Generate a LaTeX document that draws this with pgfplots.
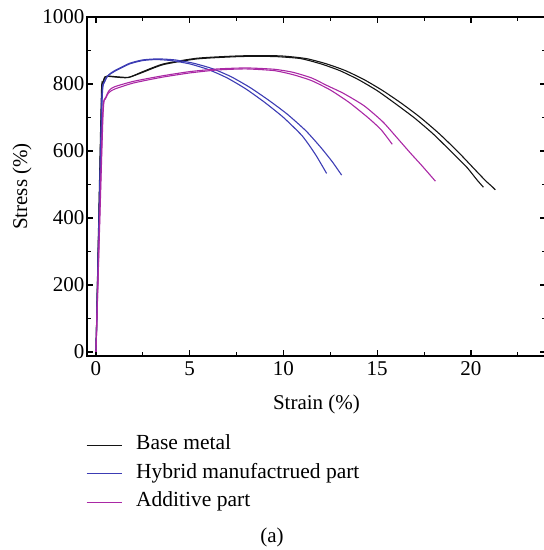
\documentclass[border=0pt]{standalone}
\usepackage{pgfplots}
\pgfplotsset{compat=1.18}
\usepackage{fontspec}
\setmainfont{Liberation Serif}
\definecolor{bmblack}{RGB}{20,20,20}
\definecolor{hyblue}{RGB}{60,60,180}
\definecolor{admag}{RGB}{170,40,165}
\begin{document}
\begin{tikzpicture}
\useasboundingbox (-87pt,-194pt) rectangle (457pt,356pt);
\begin{axis}[
  at={(0pt,0pt)}, anchor=south west,
  scale only axis, width=459pt, height=339pt,
  xmin=-0.48, xmax=24, ymin=-12, ymax=1000,
  xtick={0,5,10,15,20}, minor xtick={2.5,7.5,12.5,17.5,22.5},
  ytick={0,200,...,1000}, minor ytick={100,300,500,700,900},
  tick align=inside,
  major tick length=6pt, minor tick length=4pt,
  every tick/.style={black, line width=1.2pt},
  separate axis lines,
  axis line style={line width=1.7pt, line cap=rect},
  /pgf/number format/assume math mode=true,
  /pgf/number format/1000 sep={},
  tick label style={font=\fontsize{21}{22}\selectfont},
  xticklabel style={yshift=-2pt},
  yticklabel style={xshift=1pt},
  label style={font=\fontsize{21}{23}\selectfont},
  xlabel={Strain (\%)}, ylabel={Stress (\%)},
  xlabel style={yshift=-12pt},
  ylabel style={yshift=4pt},
  legend style={at={(-4pt,-0.229)}, anchor=north west, draw=none, fill=none,
    font=\fontsize{21.5}{23}\selectfont, row sep=10pt, column sep=14pt,
    nodes={inner sep=0pt, text height=14pt, text depth=4.5pt}},
  legend cell align=left,
  legend image code/.code={\draw[#1, line width=1pt] (0pt,0pt) -- (35pt,0pt);},
  every axis plot/.append style={smooth, tension=0.35},
]
% Base metal
\addplot[bmblack, line width=1.1pt] coordinates {
(0,0) (0.28,752) (0.34,797) (0.46,820) (0.6,823) (1.0,821) (1.7,819)
(2.5,835) (3.6,858) (5.4,875) (7.7,882) (9.5,882) (10.9,876) (12.0,860)
(13.0,840) (14.0,813) (15.0,780) (16.0,740) (17.0,698) (18.0,650)
(19.0,595) (19.8,550) (20.3,515) (20.66,492)};
\addlegendentry{Base metal}
\addplot[bmblack, line width=1.1pt, forget plot] coordinates {
(0,0) (0.3,752) (0.36,797) (0.48,821) (0.62,824) (1.0,822) (1.75,820)
(2.5,837) (3.6,860) (5.4,877) (7.7,884) (9.8,884) (11.2,876) (12.3,860)
(13.3,840) (14.3,813) (15.3,780) (16.3,742) (17.3,700) (18.3,652)
(19.3,598) (20.2,545) (20.8,510) (21.1,495) (21.3,484)};
% Hybrid
\addplot[hyblue, line width=1.1pt] coordinates {
(0,0) (0.3,740) (0.43,805) (0.65,825) (1.0,838) (1.8,860) (2.5,870)
(3.2,873) (4.0,870) (5.0,860) (6.0,843) (7.0,818) (8.0,785) (9.0,745)
(10.0,700) (11.0,645) (11.7,590) (12.3,533)};
\addlegendentry{Hybrid manufactrued part}
\addplot[hyblue, line width=1.1pt, forget plot] coordinates {
(0,0) (0.32,740) (0.45,805) (0.67,827) (1.0,840) (1.8,862) (2.5,872)
(3.3,875) (4.2,872) (5.2,862) (6.2,846) (7.2,822) (8.2,790) (9.2,752)
(10.2,710) (11.2,660) (12.0,610) (12.6,568) (13.1,528)};
% Additive
\addplot[admag, line width=1.1pt] coordinates {
(0,0) (0.35,700) (0.5,755) (0.7,775) (1.0,785) (2.0,803) (3.5,820)
(5.0,833) (6.5,842) (8.0,845) (9.5,840) (10.5,828) (11.5,810)
(12.5,782) (13.5,745) (14.5,700) (15.2,664) (15.8,620)};
\addlegendentry{Additive part}
\addplot[admag, line width=1.1pt, forget plot] coordinates {
(0,0) (0.37,700) (0.52,760) (0.72,782) (1.0,792) (2.0,808) (3.5,824)
(5.0,837) (6.5,845) (8.0,848) (9.5,844) (10.5,835) (11.5,818)
(12.3,796) (13.2,772) (14.3,735) (15.3,687) (16.0,643) (16.75,595)
(17.4,555) (18.1,510)};
\end{axis}
\node at (185pt,-181pt) {\fontsize{21}{23}\selectfont (a)};
\end{tikzpicture}
\end{document}
